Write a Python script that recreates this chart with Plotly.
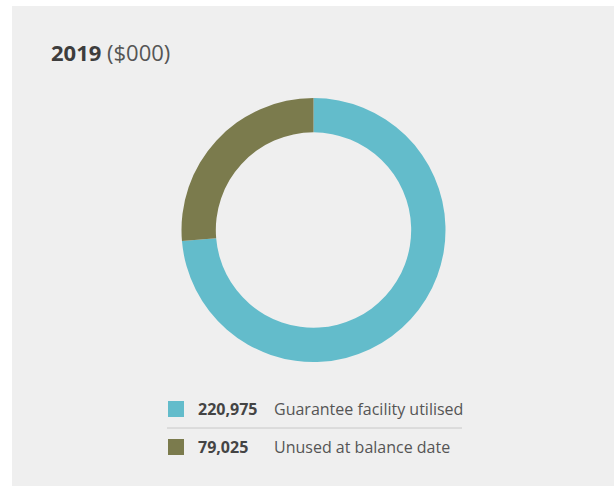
import plotly.graph_objects as go

# Guarantee facility, 2019 ($000)
labels = ["Guarantee facility utilised", "Unused at balance date"]
values = [220975, 79025]
colors = ["#63bccb", "#7b7b4d"]

W, H = 614, 486
_FONT = "Open Sans, Roboto, sans-serif"
_CARD = "#efefef"


def px(x):
    return x / W


def py(y):
    return 1 - y / H


fig = go.Figure(go.Pie(
    labels=labels, values=values, hole=0.74, sort=False, direction="clockwise",
    marker=dict(colors=colors, line=dict(width=0)), textinfo="none", showlegend=False,
    domain=dict(x=[px(181), px(446)], y=[py(362), py(98)]),
))

# the page is the grey card; white strips along the top and left edge
for x0, x1, y0, y1 in [(-0.01, px(12), -0.02, 1.01), (-0.01, 1.01, py(6), 1.01)]:
    fig.add_shape(type="rect", xref="paper", yref="paper", x0=x0, x1=x1, y0=y0, y1=y1,
                  fillcolor="white", line_width=0, layer="below")

fig.add_annotation(text="<b>2019</b> <span style='color:#555555'>($000)</span>", x=px(49), y=py(52),
                   xref="paper", yref="paper", xanchor="left", yanchor="middle", showarrow=False,
                   font=dict(family=_FONT, size=22, color="#3d3d3d"))

# hand-built legend: swatch, bold value, label
rows_y = [409, 447]
for i, (lab, val, col) in enumerate(zip(labels, values, colors)):
    yc = rows_y[i]
    fig.add_shape(type="rect", xref="paper", yref="paper", x0=px(168), x1=px(184),
                  y0=py(yc + 8), y1=py(yc - 8), fillcolor=col, line_width=0)
    fig.add_annotation(text=f"<b>{val:,}</b>", x=px(196), y=py(yc), xref="paper", yref="paper",
                       xanchor="left", yanchor="middle", showarrow=False,
                       font=dict(family=_FONT, size=16, color="#444444"))
    fig.add_annotation(text=lab, x=px(272), y=py(yc), xref="paper", yref="paper",
                       xanchor="left", yanchor="middle", showarrow=False,
                       font=dict(family=_FONT, size=16, color="#555555"))
fig.add_shape(type="line", xref="paper", yref="paper", x0=px(167), x1=px(462), y0=py(428), y1=py(428),
              line=dict(color="#c8c8c8", width=1))

fig.update_layout(width=W, height=H, margin=dict(l=0, r=0, t=0, b=0),
                  paper_bgcolor=_CARD, plot_bgcolor=_CARD)
# drop the browser's default 8px body margin so the figure sits at the window origin
fig.write_html("out.html", config={"displayModeBar": False},
               post_script="document.body.style.margin='0';document.body.style.overflow='hidden';"
                           f"document.body.style.background='{_CARD}';"
                           f"document.documentElement.style.background='{_CARD}';")
